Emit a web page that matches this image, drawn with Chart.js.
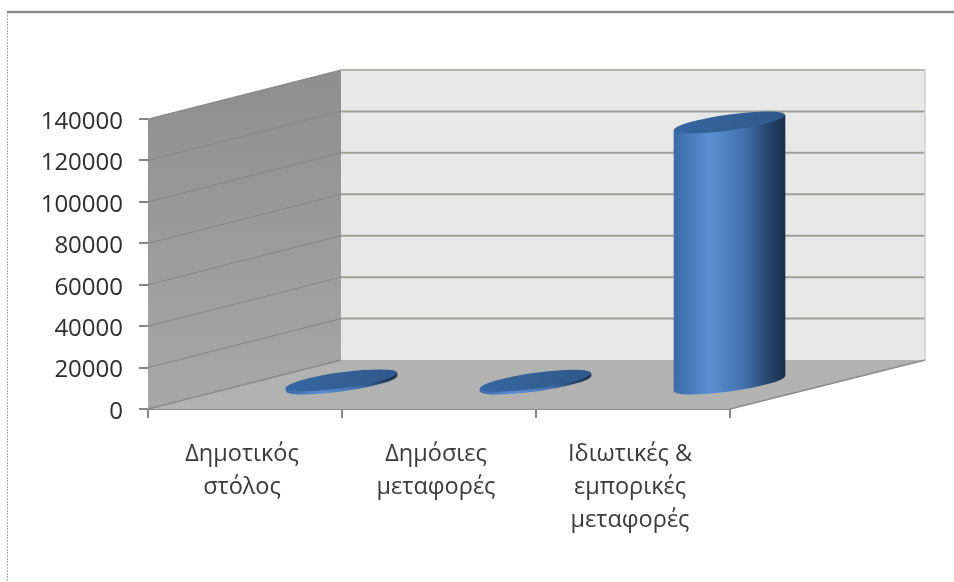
<!DOCTYPE html>
<html>
<head>
<meta charset="utf-8">
<style>html,body{margin:0;padding:0;background:#fff}canvas{display:block;filter:blur(0.5px)}</style>
<script src="https://cdn.jsdelivr.net/npm/chart.js@4"></script>
</head>
<body>
<canvas id="c" width="954" height="582"></canvas>
<script>
const categories = [["Δημοτικός","στόλος"],["Δημόσιες","μεταφορές"],["Ιδιωτικές &","εμπορικές","μεταφορές"]];
const seriesValues = [2000, 1800, 126500];
const yTicks = [0,20000,40000,60000,80000,100000,120000,140000];

const DEPTH_X = 193, DEPTH_Y = -49, BACK_EXTRA = 2, SHEAR = 15/111, RY = 8;

function bodyGradient(ctx, cx, w){
  const g = ctx.createLinearGradient(cx-w/2,0,cx+w/2,0);
  g.addColorStop(0,'#3a6ba6');
  g.addColorStop(0.32,'#5a8fd2');
  g.addColorStop(0.62,'#4373ae');
  g.addColorStop(0.82,'#2a4a75');
  g.addColorStop(1,'#1a2d49');
  return g;
}

const scene = {
  id:'scene',
  beforeDraw(chart){
    const {ctx} = chart;
    ctx.save();
    ctx.fillStyle='#fff';
    ctx.fillRect(0,0,954,582);
    ctx.strokeStyle='#8a8a8a';
    ctx.lineWidth=2.5;
    ctx.beginPath();ctx.moveTo(7,12);ctx.lineTo(954,12);ctx.stroke();
    ctx.strokeStyle='#a8a8a8';
    ctx.lineWidth=1;
    ctx.setLineDash([2,1]);
    ctx.beginPath();ctx.moveTo(7.5,12);ctx.lineTo(7.5,582);ctx.stroke();
    ctx.restore();
  },
  beforeDatasetsDraw(chart){
    const {ctx, chartArea:a, scales:{y}} = chart;
    const L=a.left,R=a.right,T=a.top,B=a.bottom,dx=DEPTH_X,dy=DEPTH_Y,BR=R+dx+BACK_EXTRA;
    ctx.save();
    // back wall
    ctx.fillStyle='#e8e8e8';
    ctx.fillRect(L+dx,T+dy,BR-L-dx,B-T);
    // floor
    ctx.fillStyle='#b2b2b2';
    ctx.beginPath();ctx.moveTo(L,B);ctx.lineTo(L+dx,B+dy);ctx.lineTo(BR,B+dy);ctx.lineTo(R,B);ctx.closePath();ctx.fill();
    // left wall
    const g=ctx.createLinearGradient(0,T+dy,0,B);
    g.addColorStop(0,'#8e8e8e');g.addColorStop(1,'#a8a8a8');
    ctx.fillStyle=g;
    ctx.beginPath();ctx.moveTo(L,T);ctx.lineTo(L+dx,T+dy);ctx.lineTo(L+dx,B+dy);ctx.lineTo(L,B);ctx.closePath();ctx.fill();
    // grid lines from the y scale
    yTicks.forEach(v=>{
      const p=y.getPixelForValue(v);
      if(v>0){
        ctx.strokeStyle='#848484';ctx.lineWidth=1;
        ctx.beginPath();ctx.moveTo(L,p);ctx.lineTo(L+dx,p+dy);ctx.stroke();
        ctx.strokeStyle=v===yTicks[yTicks.length-1]?'#b4b4b0':'#a09f98';ctx.lineWidth=2;
        ctx.beginPath();ctx.moveTo(L+dx,p+dy);ctx.lineTo(BR,p+dy);ctx.stroke();
      }
    });
    // edges
    ctx.strokeStyle='#d0d0d0';ctx.lineWidth=1.5;
    ctx.beginPath();ctx.moveTo(BR,T+dy);ctx.lineTo(BR,B+dy);ctx.stroke();
    ctx.strokeStyle='#8a8a8a';ctx.lineWidth=1.5;
    ctx.beginPath();ctx.moveTo(L,B);ctx.lineTo(L+dx,B+dy);ctx.stroke();
    ctx.beginPath();ctx.moveTo(R,B);ctx.lineTo(BR,B+dy);ctx.stroke();
    ctx.restore();
  },
  beforeDatasetDraw(chart,args){
    const {ctx} = chart;
    args.meta.data.forEach(el=>{
      const w=el.width, cx=el.x;
      ctx.save();
      ctx.translate(DEPTH_X/2, DEPTH_Y/2);
      // shear around the bar's own centre
      ctx.transform(1,-SHEAR,0,1,0,SHEAR*cx);
      // lower cap
      ctx.fillStyle=bodyGradient(ctx,cx,w);
      ctx.beginPath();ctx.ellipse(cx,el.base,w/2,RY,0,0,Math.PI*2);ctx.fill();
      el.draw(ctx);
      // top cap
      const t=ctx.createLinearGradient(cx-w/2,0,cx+w/2,0);
      t.addColorStop(0,'#35669f');t.addColorStop(1,'#30598a');
      ctx.fillStyle=t;
      ctx.beginPath();ctx.ellipse(cx,el.y,w/2,RY,0,0,Math.PI*2);ctx.fill();
      ctx.restore();
    });
    return false;
  }
};

new Chart(document.getElementById('c'),{
  type:'bar',
  data:{labels:categories,datasets:[{
    data:seriesValues,
    barThickness:111,
    borderWidth:0,
    backgroundColor(c){
      const x=c.chart.scales.x;
      const px=x&&c.dataIndex!==undefined?x.getPixelForValue(c.dataIndex):NaN;
      return Number.isFinite(px)?bodyGradient(c.chart.ctx,px,111):'#3a6ba6';
    }
  }]},
  options:{
    responsive:false,animation:false,
    layout:{padding:{left:0,top:119,right:224,bottom:0}},
    plugins:{legend:{display:false},tooltip:{enabled:false}},
    scales:{
      x:{
        afterFit(s){s.height=173;},
        grid:{drawOnChartArea:false,color:'#868686',lineWidth:2,tickLength:9},
        border:{color:'#8c8c8c',width:2},
        ticks:{autoSkip:false,maxRotation:0,minRotation:0,padding:20,labelOffset:-3,color:'#3a3a3a',
          font:{family:'"Open Sans"',size:23.5,lineHeight:1.4}}
      },
      y:{
        min:0,max:140000,
        afterFit(s){s.width=148;},
        afterBuildTicks(s){s.ticks=yTicks.map(v=>({value:v}));},
        grid:{drawOnChartArea:false,color:'#868686',lineWidth:2,tickLength:9},
        border:{color:'#8c8c8c',width:1},
        ticks:{padding:16,labelOffset:3,color:'#2e2e2e',font:{family:'"Open Sans"',size:24},callback:v=>String(v)}
      }
    }
  },
  plugins:[scene]
});
</script>
</body>
</html>
